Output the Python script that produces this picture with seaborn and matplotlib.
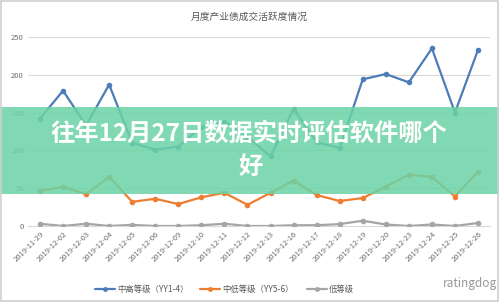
import matplotlib
matplotlib.use("Agg")
import matplotlib.pyplot as plt
import seaborn as sns
import pandas as pd
from matplotlib.patches import Rectangle

dates = ["2019-11-29", "2019-12-02", "2019-12-03", "2019-12-04", "2019-12-05",
         "2019-12-06", "2019-12-09", "2019-12-10", "2019-12-11", "2019-12-12",
         "2019-12-13", "2019-12-16", "2019-12-17", "2019-12-18", "2019-12-19",
         "2019-12-20", "2019-12-23", "2019-12-24", "2019-12-25", "2019-12-26"]
high_mid = [142, 179, 133, 187, 110, 101, 105, 131, 138, 118,
            92, 155, 111, 103, 194, 201, 190, 235, 150, 233]
mid_low = [46, 52, 42, 65, 32, 36, 29, 38, 44, 28,
           44, 60, 41, 33, 37, 52, 68, 65, 39, 72]
low = [3, 0, 3, 0, 1.5, 0, 0, 1, 3, 0,
       0, 1, 1, 2.5, 7, 2, 0, 2, 0, 4]
series_names = ["中高等级（YY1-4）", "中低等级（YY5-6）", "低等级"]
yticks = [0, 50, 100, 150, 200, 250]
chart_title = "月度产业债成交活跃度情况"
banner_line1 = "往年12月27日数据实时评估软件哪个"
banner_line2 = "好"

sns.set_theme(style="white")
plt.rcParams['font.family'] = ['Noto Sans CJK SC', 'DejaVu Sans']

df = pd.DataFrame({"date": dates * 3,
                   "idx": list(range(len(dates))) * 3,
                   "value": high_mid + mid_low + low,
                   "series": [series_names[0]] * len(dates)
                             + [series_names[1]] * len(dates)
                             + [series_names[2]] * len(dates)})

palette = {series_names[0]: "#4C7DB8", series_names[1]: "#ED7D31", series_names[2]: "#A5A5A5"}

fig = plt.figure(figsize=(4.99, 3.02), dpi=100)
fig.patch.set_facecolor("white")
ax = fig.add_axes([28/499, (302-226)/302, 462/499, (226-37)/302])

sns.lineplot(data=df, x="idx", y="value", hue="series", palette=palette,
             marker="o", markersize=4, markeredgewidth=0, linewidth=1.6,
             ax=ax, legend=False, zorder=3)

ax.set_xlim(-0.52, 19.52)
ax.set_ylim(0, 250)
ax.set_yticks(yticks)
ax.set_yticklabels([str(v) for v in yticks], fontsize=5.5, color="#6E6E6E")
ax.set_xticks(range(len(dates)))
ax.set_xticklabels(dates, rotation=45, ha="right", rotation_mode="anchor",
                   fontsize=5.5, color="#6E6E6E")
ax.tick_params(axis="both", length=0, pad=3)
ax.set_xlabel("")
ax.set_ylabel("")
for y in yticks[1:]:
    ax.axhline(y, color="#D9D9D9", linewidth=0.8, zorder=1)
for s in ["top", "right", "left"]:
    ax.spines[s].set_visible(False)
ax.spines["bottom"].set_color("#D9D9D9")
ax.spines["bottom"].set_linewidth(0.8)
ax.set_facecolor("none")

fig.text(0.5, 1 - 17/302, chart_title, ha="center", va="center",
         fontsize=7, color="#595959")

# legend
lx = [95/499, 200/499, 307/499]
ly = 1 - 289/302
for name, x0 in zip(series_names, lx):
    c = palette[name]
    fig.add_artist(plt.Line2D([x0, x0 + 20/499], [ly, ly], color=c, linewidth=1.6,
                              transform=fig.transFigure))
    fig.add_artist(plt.Line2D([x0 + 10/499], [ly], color=c, marker="o", markersize=3.5,
                              markeredgewidth=0, transform=fig.transFigure))
    fig.text(x0 + 22/499, ly, name, ha="left", va="center", fontsize=6, color="#595959")

fig.text(470/499, ly + 5/302, "ratingdog", ha="center", va="center", fontsize=8.5,
         color="#7F7F7F", alpha=0.8)

# banner overlay
fig.add_artist(Rectangle((0, 1 - 194/302), 1, 87/302, transform=fig.transFigure,
                         facecolor="#6AD3A5", alpha=0.85, edgecolor="none", zorder=10))
fig.text(249/499, 1 - 134/302, banner_line1, ha="center", va="center", fontsize=17.5,
         fontweight="bold", color="white", zorder=11)
fig.text(251/499, 1 - 167/302, banner_line2, ha="center", va="center", fontsize=17.5,
         fontweight="bold", color="white", zorder=11)

# outer frame
fig.add_artist(Rectangle((0.002, 0.003), 0.996, 0.994, transform=fig.transFigure,
                         facecolor="none", edgecolor="#D0D0D0", linewidth=1.2, zorder=12))

fig.savefig("out.png", dpi=100)
